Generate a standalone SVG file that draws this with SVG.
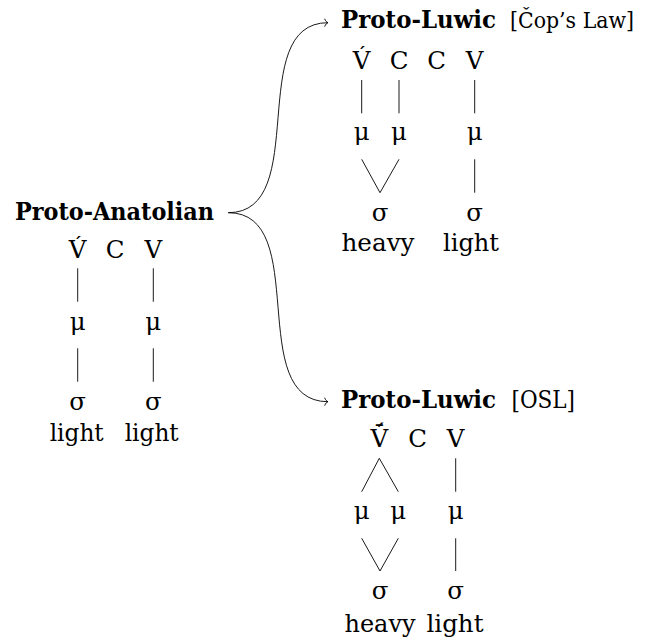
<svg xmlns="http://www.w3.org/2000/svg" width="652" height="640" viewBox="0 0 652 640">
<style>
text{font-family:"DejaVu Serif","Liberation Serif",serif;font-size:24.5px;fill:#000}
.t{font-weight:bold;font-size:24px}
.c{text-anchor:middle}
.ln{stroke:#000;stroke-width:0.9;fill:none}
</style>
<defs>
<marker id="to" markerUnits="userSpaceOnUse" viewBox="-5 -5 7 10" refX="0" refY="0" markerWidth="7" markerHeight="10" orient="auto" overflow="visible">
<path d="M-3.2,-3.6 C-2.6,-1.6 -1.1,-0.4 0,0 C-1.1,0.4 -2.6,1.6 -3.2,3.6" fill="none" stroke="#000" stroke-width="0.9" stroke-linecap="round"/>
</marker>
</defs>
<rect width="652" height="640" fill="#fff"/>
<g id="connectors">
<path class="ln" d="M228.3,212.7 C312,212.7 244,22.7 328,22.7" marker-end="url(#to)"/>
<path class="ln" d="M228.3,212.7 C312,212.7 244,401.7 328,401.7" marker-end="url(#to)"/>
</g>
<g id="proto-anatolian">
<text class="t" x="15" y="219.5" textLength="199" lengthAdjust="spacingAndGlyphs">Proto-Anatolian</text>
<text class="c" x="77.7" y="258">V́</text>
<text class="c" x="115" y="258">C</text>
<text class="c" x="153.3" y="258">V</text>
<line class="ln" x1="77.7" y1="268.3" x2="77.7" y2="301.7"/>
<line class="ln" x1="153.3" y1="268.3" x2="153.3" y2="301.7"/>
<text class="c" x="77.7" y="330">μ</text>
<text class="c" x="153.3" y="330">μ</text>
<line class="ln" x1="77.7" y1="348.3" x2="77.7" y2="381.7"/>
<line class="ln" x1="153.3" y1="348.3" x2="153.3" y2="381.7"/>
<text class="c" x="77.7" y="410">σ</text>
<text class="c" x="153.3" y="410">σ</text>
<text class="c" x="76.7" y="441" textLength="54" lengthAdjust="spacingAndGlyphs">light</text>
<text class="c" x="151.7" y="441" textLength="54" lengthAdjust="spacingAndGlyphs">light</text>
</g>
<g id="proto-luwic-cop">
<text class="t" x="341" y="28" textLength="155" lengthAdjust="spacingAndGlyphs">Proto-Luwic</text>
<text x="510" y="28" style="font-size:22px" textLength="124" lengthAdjust="spacingAndGlyphs">[Čop’s Law]</text>
<text class="c" x="361.7" y="68.5">V́</text>
<text class="c" x="399" y="68.5">C</text>
<text class="c" x="436.7" y="68.5">C</text>
<text class="c" x="474.7" y="68.5">V</text>
<line class="ln" x1="361.7" y1="80" x2="361.7" y2="113.3"/>
<line class="ln" x1="399" y1="80" x2="399" y2="113.3"/>
<line class="ln" x1="474.7" y1="80" x2="474.7" y2="113.3"/>
<text class="c" x="361.7" y="140">μ</text>
<text class="c" x="399" y="140">μ</text>
<text class="c" x="474.7" y="140">μ</text>
<polyline class="ln" points="361.7,159.3 380,192.7 399,159.3"/>
<line class="ln" x1="474.7" y1="159.3" x2="474.7" y2="192.7"/>
<text class="c" x="380" y="220.5">σ</text>
<text class="c" x="474.7" y="220.5">σ</text>
<text class="c" x="378" y="250.5" textLength="73" lengthAdjust="spacingAndGlyphs">heavy</text>
<text class="c" x="471" y="250.5" textLength="56" lengthAdjust="spacingAndGlyphs">light</text>
</g>
<g id="proto-luwic-osl">
<text class="t" x="341" y="408" textLength="155" lengthAdjust="spacingAndGlyphs">Proto-Luwic</text>
<text x="511.5" y="408" textLength="63.5" lengthAdjust="spacingAndGlyphs">[OSL]</text>
<text class="c" x="379.3" y="446.7">V̄́</text>
<text class="c" x="417.7" y="446.7">C</text>
<text class="c" x="455.7" y="446.7">V</text>
<polyline class="ln" points="361.7,491.7 379.3,458.3 398.3,491.7"/>
<line class="ln" x1="455.7" y1="458.3" x2="455.7" y2="491.7"/>
<text class="c" x="361.7" y="518.5">μ</text>
<text class="c" x="398.3" y="518.5">μ</text>
<text class="c" x="455.7" y="518.5">μ</text>
<polyline class="ln" points="361.7,538.3 380,571 398.3,538.3"/>
<line class="ln" x1="455.7" y1="538.3" x2="455.7" y2="571"/>
<text class="c" x="380" y="599">σ</text>
<text class="c" x="455.7" y="599">σ</text>
<text class="c" x="380" y="631.5" textLength="71" lengthAdjust="spacingAndGlyphs">heavy</text>
<text class="c" x="455" y="631.5" textLength="57" lengthAdjust="spacingAndGlyphs">light</text>
</g>
</svg>
